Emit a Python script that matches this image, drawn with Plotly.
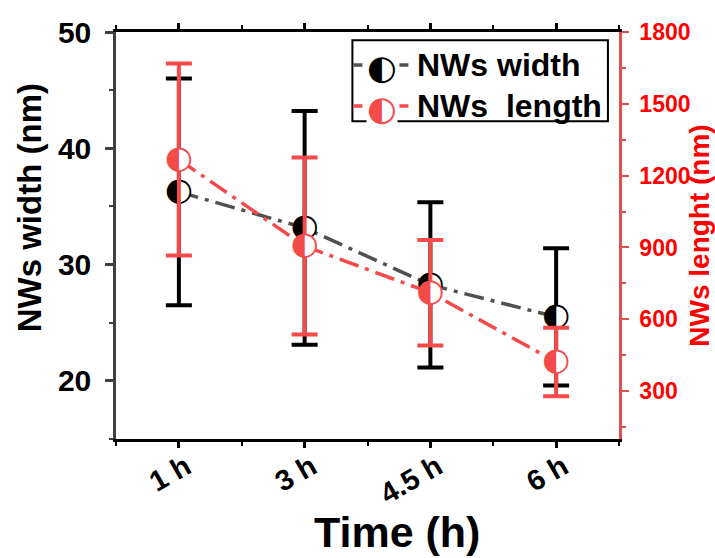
import plotly.graph_objects as go

# ---- data ----
times = ["1 h", "3 h", "4.5 h", "6 h"]
width_nm = [36.25, 33.15, 28.25, 25.5]
width_err = [9.75, 10.05, 7.1, 5.9]
length_nm = [1267, 906, 711, 422]
length_err = [401, 370, 220, 143]

xpos = list(range(len(times)))

GREY = "#505050"
RED = "#f44a4a"
FONT = "Liberation Sans, Arial, sans-serif"
GLYPH_FONT = "DejaVu Sans"
DASH = "20px,7px,4px,7px"

fig = go.Figure()

# lines + error bars
fig.add_trace(go.Scatter(
    x=xpos, y=width_nm, mode="lines", name="NWs width", showlegend=False,
    line=dict(color=GREY, width=3.5, dash=DASH),
    error_y=dict(type="data", array=width_err, color="black", thickness=4, width=13),
))
fig.add_trace(go.Scatter(
    x=xpos, y=length_nm, mode="lines", name="NWs  length", showlegend=False, yaxis="y2",
    line=dict(color=RED, width=3.5, dash=DASH),
    error_y=dict(type="data", array=length_err, color=RED, thickness=4, width=13),
))
# half-filled markers
fig.add_trace(go.Scatter(
    x=xpos, y=width_nm, mode="markers+text", showlegend=False,
    marker=dict(symbol="circle", size=23, color="white"),
    text=["◐"] * len(xpos), textposition="middle center",
    textfont=dict(family=GLYPH_FONT, size=32, color="black"),
))
fig.add_trace(go.Scatter(
    x=xpos, y=length_nm, mode="markers+text", showlegend=False, yaxis="y2",
    marker=dict(symbol="circle", size=23, color="white"),
    text=["◐"] * len(xpos), textposition="middle center",
    textfont=dict(family=GLYPH_FONT, size=32, color=RED),
))

fig.update_layout(
    width=715, height=558,
    margin=dict(l=116, r=96, t=32, b=119),
    paper_bgcolor="white", plot_bgcolor="white",
    font=dict(family=FONT, color="black"),
    xaxis=dict(
        range=[-0.5, 3.5], tickmode="array", tickvals=xpos, ticktext=times,
        automargin=False,
        showline=True, linecolor="black", linewidth=2.5, mirror="ticks",
        ticks="outside", ticklen=6, tickwidth=2.5, tickcolor="black",
        tickangle=-30, ticklabelshift=7, ticklabelstandoff=-9,
        tickfont=dict(family=FONT, size=29, weight="bold", color="black"),
        minor=dict(tick0=0.5, dtick=1, ticks="outside", ticklen=4, tickwidth=2, tickcolor="black"),
        showgrid=False, zeroline=False,
    ),
    yaxis=dict(
        range=[15, 50], tick0=20, dtick=10, automargin=False,
        showline=True, linecolor="#404040", linewidth=2.5,
        ticks="outside", ticklen=8, tickwidth=2.5, tickcolor="#404040",
        ticklabelstandoff=8,
        tickfont=dict(family=FONT, size=30, weight="bold", color="black"),
        minor=dict(tick0=15, dtick=5, ticks="outside", ticklen=4, tickwidth=2, tickcolor="#404040"),
        showgrid=False, zeroline=False,
    ),
    yaxis2=dict(
        overlaying="y", side="right", range=[100, 1800], tick0=0, dtick=300,
        automargin=False,
        showline=True, linecolor="#e05050", linewidth=2.5,
        ticks="outside", ticklen=7, tickwidth=2, tickcolor="#e05050",
        ticklabelstandoff=6,
        tickfont=dict(family=FONT, size=23, weight="bold", color="#ff0000"),
        minor=dict(tick0=150, dtick=300, ticks="outside", ticklen=4, tickwidth=1.5, tickcolor="#e05050"),
        title=dict(text="NWs lenght (nm)", standoff=8,
                   font=dict(family=FONT, size=28, weight="bold", color="#ff0000")),
        showgrid=False, zeroline=False,
    ),
)

# axis titles placed as in the reference
fig.add_annotation(text="NWs width (nm)", xref="paper", yref="paper", x=-0.172, y=0.568,
                   xanchor="center", yanchor="middle", textangle=-90, showarrow=False,
                   font=dict(family=FONT, size=33, weight="bold", color="black"))
fig.add_annotation(text="Time (h)", xref="paper", yref="paper", x=0.558, y=-0.228,
                   xanchor="center", yanchor="middle", showarrow=False,
                   font=dict(family=FONT, size=43, weight="bold", color="black"))

# custom legend (box, dash-dot samples, half-filled symbols, labels)
lx0, lx1, ly0, ly1 = 0.470, 0.978, 0.781, 0.980
fig.add_shape(type="rect", xref="paper", yref="paper", x0=lx0, x1=lx1, y0=ly0, y1=ly1,
              line=dict(color="black", width=2), fillcolor="white", layer="above")
rows = [(0.919, GREY, "black", "NWs width"), (0.818, RED, RED, "NWs  length")]
for yy, lc, gc, label in rows:
    fig.add_shape(type="line", xref="paper", yref="paper", x0=0.472, x1=0.582, y0=yy, y1=yy,
                  line=dict(color=lc, width=3.5, dash="9px,5px,4px,5px"), layer="above")
    fig.add_annotation(text="◐", xref="paper", yref="paper", x=0.528, y=yy, yshift=-2,
                       xanchor="center", yanchor="middle", showarrow=False, bgcolor="white",
                       borderpad=0,
                       font=dict(family=GLYPH_FONT, size=34, color=gc))
    fig.add_annotation(text=label, xref="paper", yref="paper", x=0.594, y=yy,
                       xanchor="left", yanchor="middle", showarrow=False,
                       font=dict(family=FONT, size=32, weight="bold", color="black"))

fig.write_html("out.html")
